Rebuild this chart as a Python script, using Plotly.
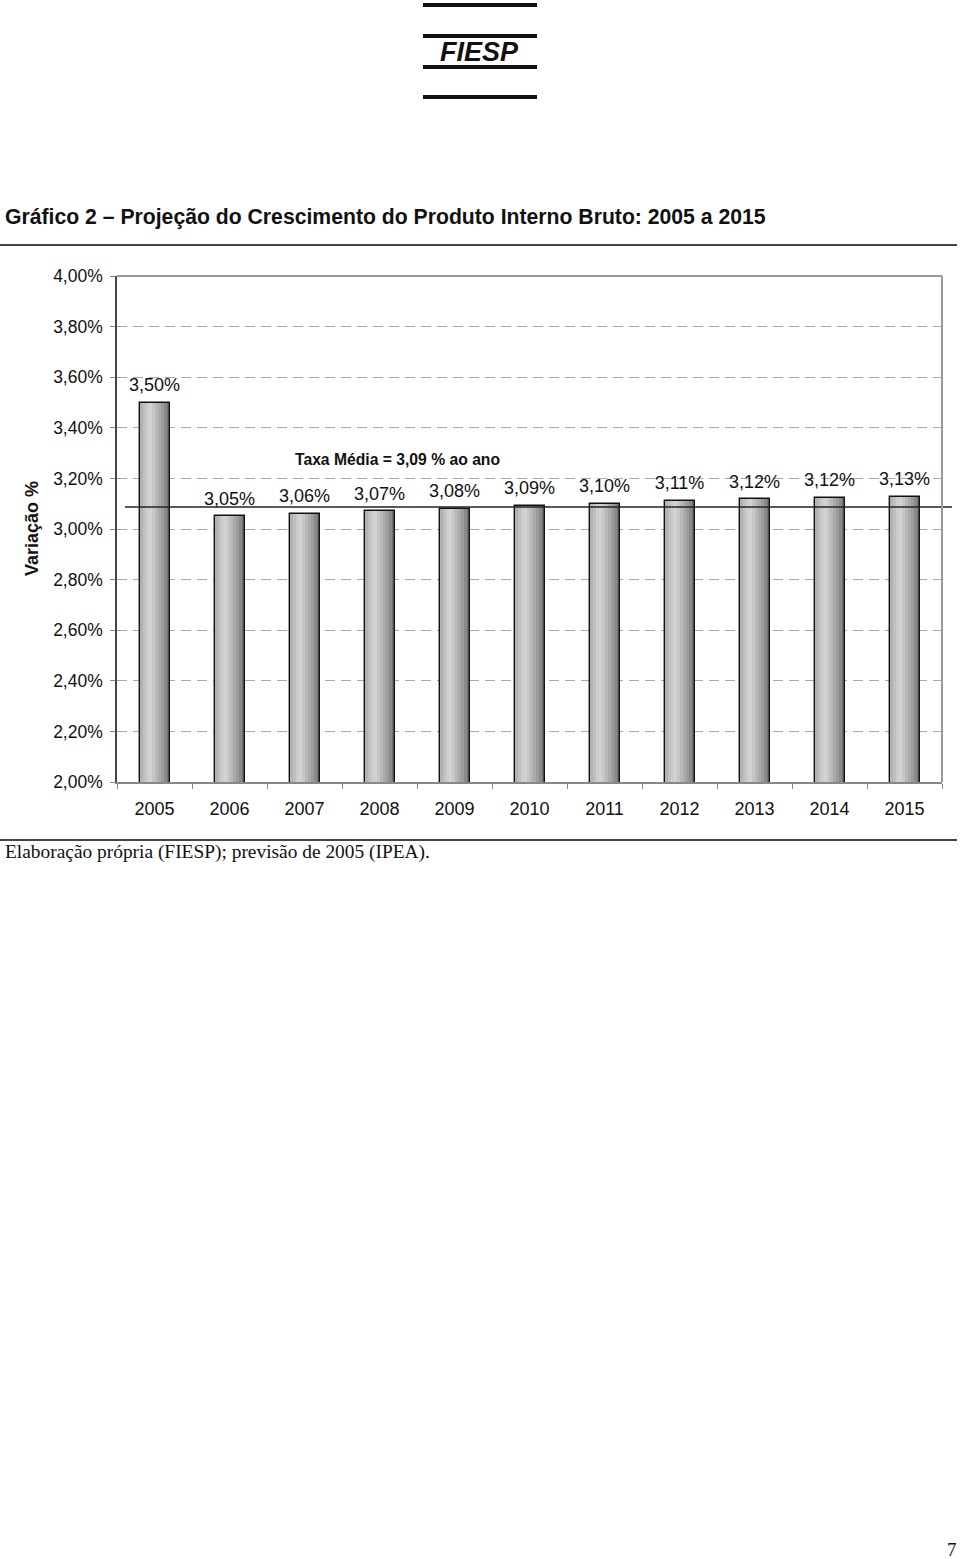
import plotly.graph_objects as go

# ---- data ----
years = ["2005", "2006", "2007", "2008", "2009", "2010", "2011", "2012", "2013", "2014", "2015"]
growth = [3.50, 3.05, 3.06, 3.07, 3.08, 3.09, 3.10, 3.11, 3.117, 3.123, 3.128]
growth_labels = ["3,50%", "3,05%", "3,06%", "3,07%", "3,08%", "3,09%", "3,10%", "3,11%", "3,12%", "3,12%", "3,13%"]
avg_rate = 3.087
avg_label = "Taxa Média = 3,09 % ao ano"
y_ticks = [2.0, 2.2, 2.4, 2.6, 2.8, 3.0, 3.2, 3.4, 3.6, 3.8, 4.0]
y_tick_labels = ["2,00%", "2,20%", "2,40%", "2,60%", "2,80%", "3,00%", "3,20%", "3,40%", "3,60%", "3,80%", "4,00%"]

W, H = 960, 1559
def px(x):
    return x / W
def py(y):
    return 1 - y / H

# ---- style ----
stripe_colors = ['#b2b2b2', '#c0c0c0', '#cdcdcd', '#d2d2d2', '#c6c6c6', '#b8b8b8',
                 '#aaaaaa', '#9c9c9c', '#8a8a8a', '#727272']
bar_w = 0.4
n = len(stripe_colors)
sw = bar_w / n

fig = go.Figure()
for i, c in enumerate(stripe_colors):
    fig.add_trace(go.Bar(x=years, y=growth, width=sw, offset=-bar_w / 2 + i * sw,
                         marker=dict(color=c, line=dict(width=0)), showlegend=False,
                         hoverinfo="skip"))
fig.add_trace(go.Bar(x=years, y=growth, width=bar_w, offset=-bar_w / 2,
                     marker=dict(color="rgba(0,0,0,0)", line=dict(color="#111111", width=1.4)),
                     showlegend=False))
# value labels
fig.add_trace(go.Scatter(x=years, y=growth, text=growth_labels, mode="markers+text",
                         textposition="top center", cliponaxis=False,
                         marker=dict(size=10, color="rgba(0,0,0,0)"),
                         textfont=dict(family="Liberation Sans, Arial", size=18, color="#111"),
                         showlegend=False, hoverinfo="skip"))

shapes = []
# average line
shapes.append(dict(type="line", xref="paper", yref="y", x0=px(125), x1=px(952),
                   y0=avg_rate, y1=avg_rate, line=dict(color="#222", width=1.4)))
# plot border top/right
shapes.append(dict(type="line", xref="paper", yref="paper", x0=px(117), x1=px(942),
                   y0=py(276), y1=py(276), line=dict(color="#999", width=2)))
shapes.append(dict(type="line", xref="paper", yref="paper", x0=px(942), x1=px(942),
                   y0=py(276), y1=py(782), line=dict(color="#999", width=2)))
# title rule and footer rule
shapes.append(dict(type="line", xref="paper", yref="paper", x0=0, x1=px(957),
                   y0=py(245), y1=py(245), line=dict(color="#444", width=2)))
shapes.append(dict(type="line", xref="paper", yref="paper", x0=0, x1=px(957),
                   y0=py(840), y1=py(840), line=dict(color="#444", width=2)))
# logo lines
for ly in [5, 36, 67, 97]:
    shapes.append(dict(type="line", xref="paper", yref="paper", x0=px(423), x1=px(537),
                       y0=py(ly), y1=py(ly), line=dict(color="#111", width=4)))

fig.update_layout(shapes=shapes)

def note(x, y, text, size, family="Liberation Sans, Arial", xanchor="center", angle=0):
    fig.add_annotation(xref="paper", yref="paper", x=px(x), y=py(y), text=text,
                       xanchor=xanchor, yanchor="middle", textangle=angle, showarrow=False,
                       font=dict(family=family, size=size, color="#111"))

note(479, 52.5, "<b><i>FIESP</i></b>", 27)
note(3, 217, "<b>Gráfico 2 – Projeção do Crescimento do Produto Interno Bruto: 2005 a 2015</b>", 21.2,
     xanchor="left")
note(397, 459, "<b>" + avg_label + "</b>", 15.7)
note(32, 529, "<b>Variação %</b>", 18, angle=-90)
note(3, 852, "Elaboração própria (FIESP); previsão de 2005 (IPEA).", 19.4,
     family="Liberation Serif, Times New Roman", xanchor="left")
note(952, 1549, "7", 19, family="Liberation Serif, Times New Roman")

fig.update_layout(
    width=W, height=H, margin=dict(l=0, r=0, t=0, b=0, autoexpand=False),
    paper_bgcolor="white", plot_bgcolor="white",
    barmode="overlay", bargap=0,
    xaxis=dict(domain=[px(117), px(942)], type="category", range=[-0.5, len(years) - 0.5],
               tickson="boundaries", tickangle=0, ticklabelstandoff=10,
               ticks="outside", ticklen=5, tickcolor="#888", showline=True, linecolor="#888",
               linewidth=1.5, showgrid=False,
               tickfont=dict(family="Liberation Sans, Arial", size=18, color="#111")),
    yaxis=dict(domain=[py(782), py(276)], range=[2.0, 4.0], tickvals=y_ticks, ticktext=y_tick_labels,
               ticks="outside", ticklen=5, tickcolor="#888", showline=True, linecolor="#444",
               linewidth=1.5, showgrid=True, gridcolor="#aaaaaa", griddash="10px,6px", gridwidth=1,
               zeroline=False, ticklabelstandoff=4,
               tickfont=dict(family="Liberation Sans, Arial", size=17.5, color="#111")),
)

fig.write_html("out.html")
